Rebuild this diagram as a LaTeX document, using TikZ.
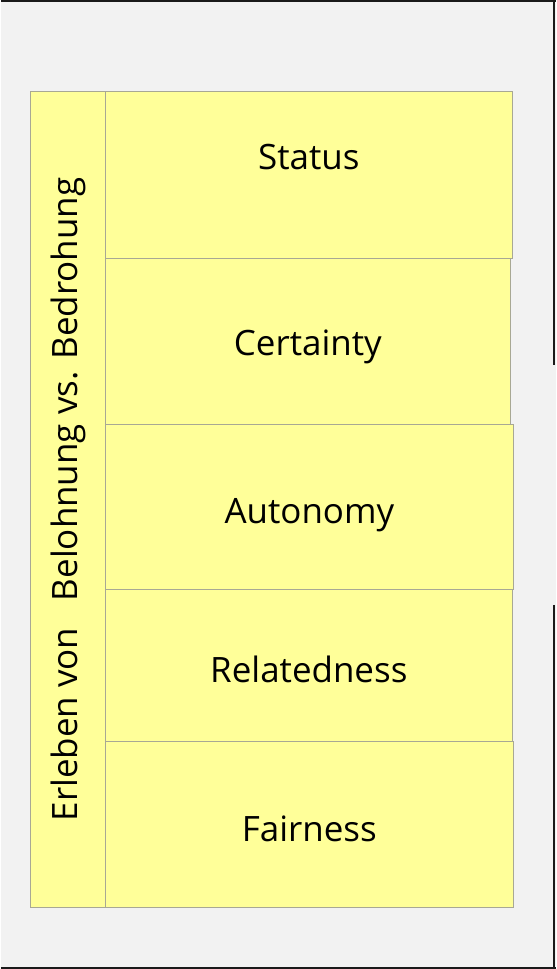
\documentclass[tikz,border=0pt]{standalone}
\usepackage{fontspec}
\setmainfont{Open Sans}
\usetikzlibrary{positioning}
\definecolor{paperG}{HTML}{F2F2F2}
\definecolor{noteY}{HTML}{FFFF99}
\definecolor{edgeG}{HTML}{A8A894}
\definecolor{frameK}{HTML}{1A1A1A}

\begin{document}
\begin{tikzpicture}[
  x=1pt, y=-1pt,
  rowbox/.style={
    fill=noteY, draw=edgeG,
    font=\fontsize{35}{42}\selectfont,
    minimum width=#1, minimum height=166pt,
    text height=34pt, text depth=0pt,
    inner sep=0pt, outer sep=0pt,
    line width=0.8pt
  },
  sidebox/.style={
    fill=noteY, draw=edgeG,
    font=\fontsize{35}{42}\selectfont,
    minimum width=817pt, minimum height=75pt,
    inner sep=0pt, outer sep=0pt,
    line width=0.8pt, rotate=90
  },
  frame/.style={frameK, line width=1.8pt}
]

%% ═══ HINTERGRUND ═══
\fill[paperG] (0,0) rectangle (556,969);
\draw[frame] (0,0.5) -- (556,0.5);
\draw[frame] (0,968.5) -- (556,968.5);
\draw[frame] (554.5,0) -- (554.5,365);
\draw[frame] (554.5,605) -- (554.5,969);

%% ═══ FAKTOREN ═══
\node[rowbox=407pt, anchor=north west, text depth=45pt, minimum height=167pt]
  (status) at (105,91) {Status};

\node[rowbox=405pt, below=0pt of status.south west, anchor=north west,
  text height=28pt] (certainty) {Certainty};

\node[rowbox=408pt, below=0pt of certainty.south west, anchor=north west]
  (autonomy) {Autonomy};

\node[rowbox=407pt, below=0pt of autonomy.south west, anchor=north west,
  minimum height=152pt] (relatedness) {Relatedness};

\node[rowbox=408pt, below=0pt of relatedness.south west, anchor=north west]
  (fairness) {Fairness};

%% ═══ ERLEBEN ═══
\node[sidebox] (erleben) at (67.5,499.5)
  {Erleben von\hspace{0.5em} Belohnung vs. Bedrohung};

\end{tikzpicture}
\end{document}
